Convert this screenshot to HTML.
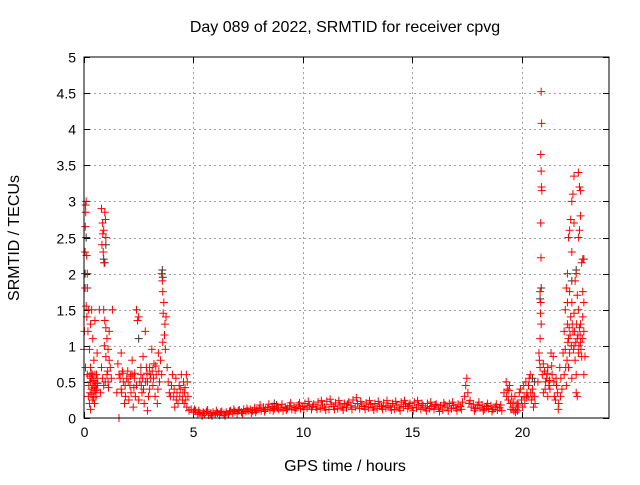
<!DOCTYPE html>
<html><head><meta charset="utf-8"><style>
body{margin:0;background:#fff}
svg text{font-family:"Liberation Sans",sans-serif;font-size:14px;fill:#000}
</style></head><body>
<svg id="chart" width="640" height="480" xmlns="http://www.w3.org/2000/svg">
<text x="345" y="32" text-anchor="middle" style="font-size:16px">Day 089 of 2022, SRMTID for receiver cpvg</text>
<text x="345" y="471" text-anchor="middle" style="font-size:16px">GPS time / hours</text>
<text transform="translate(19,238) rotate(-90)" text-anchor="middle" style="font-size:16px">SRMTID / TECUs</text>
<g id="grid"></g>
<g id="ticks"></g>
<path id="black" fill="none" stroke="#333" stroke-width="1"/>
<path id="red" fill="none" stroke="#ff0000" stroke-width="1"/>
<rect x="84" y="57" width="525" height="361" fill="none" stroke="#000" stroke-width="1"/>
</svg>
<script>
const xTicks=[0,5,10,15,20];
const yTicks=[0,0.5,1,1.5,2,2.5,3,3.5,4,4.5,5];
const yTickLabels=["0","0.5","1","1.5","2","2.5","3","3.5","4","4.5","5"];
const blackPts=[[0.1,2.5],[0.05,2.0],[0.15,1.8],[0.9,2.2],[0.95,2.15],[3.58,2.05],[3.6,1.95],[20.9,1.8],[20.85,1.65],[22.5,2.05],[22.85,2.2],[2.5,1.1],[20.6,0.5],[20.5,0.55],[22.3,1.9],[8.7,0.2],[1.0,2.4]];
const redPts=[
[0.05,2.3],[0.08,2.85],[0.1,3.0],[0.12,2.25],[0.15,2.0],[0.05,1.8],[0.1,1.55],[0.2,1.5],[0.18,1.2],[0.25,0.95],[0.3,0.7],[0.35,0.55],[0.4,0.45],[0.45,0.35],[0.5,0.6],[0.55,0.45],[0.2,0.3],[0.25,0.2],[0.3,0.12],[0.35,0.4],[0.4,0.6],[0.45,0.8],[0.5,0.5],[0.55,0.3],[0.6,0.55],[0.3,1.3],[0.35,1.5],[0.4,1.1],[0.15,0.6],[0.22,0.45],[0.28,0.35],[0.38,0.25],[0.48,0.2],[0.58,0.4],[0.02,1.2],[0.0,0.95],[0.6,0.9],[0.5,1.35],
[0.3,0.5],[0.33,0.62],[0.42,0.52],[0.47,0.42],[0.52,0.38],[0.36,0.33],[0.44,0.28],[0.27,0.58],[0.57,0.6],[0.62,0.48],[0.07,2.95],[0.06,2.65],[0.13,1.4],[0.07,0.7],
[0.8,2.9],[0.85,2.7],[0.9,2.6],[0.82,2.4],[0.95,2.85],[0.88,2.3],[0.92,2.15],[1.0,2.5],[0.9,1.5],[0.95,1.35],[1.0,1.25],[1.05,1.1],[1.1,0.95],[1.0,0.85],[1.15,0.8],[0.8,0.7],[0.85,0.55],[0.9,0.45],[0.75,0.35],[1.05,0.6],[1.1,0.5],[1.2,0.7],[1.25,0.55],[1.3,1.5],[0.7,1.5],[1.15,1.2],
[0.98,2.75],[0.86,2.55],[0.93,1.0],[1.08,0.65],[0.97,0.5],[1.12,0.42],
[1.6,0.0],[1.5,0.35],[1.6,0.6],[1.7,0.9],[1.8,0.5],[1.9,0.3],[2.0,0.65],[2.1,0.45],[2.2,0.8],[2.3,0.55],[2.4,1.5],[2.45,1.35],[2.5,1.4],[2.35,0.3],[2.5,0.25],[2.6,0.6],[2.7,0.85],[2.8,1.2],[2.85,0.7],[2.9,0.5],[3.0,0.4],[3.1,0.95],[3.2,0.75],[3.3,0.6],[3.4,0.9],[1.7,0.4],[1.85,0.2],[2.05,0.25],[2.15,0.35],[2.25,0.15],[2.55,0.5],[2.65,0.35],[2.75,0.2],[2.95,0.3],[3.05,0.55],[3.15,0.45],[3.25,0.3],[3.35,0.2],[1.95,0.55],[2.2,0.6],[2.6,0.7],[3.0,0.7],[1.55,0.75],[1.75,0.65],[2.4,0.45],[2.9,0.1],[3.45,0.5],
[1.65,0.55],[1.72,0.35],[1.78,0.62],[1.88,0.45],[2.02,0.5],[2.12,0.58],[2.28,0.42],[2.32,0.62],[2.62,0.45],[2.68,0.55],[2.72,0.4],[2.82,0.5],[2.88,0.62],[3.02,0.6],[3.12,0.65],[3.18,0.55],[3.28,0.72],[3.38,0.4],[3.42,0.65],
[3.55,2.0],[3.58,1.9],[3.6,1.75],[3.65,1.6],[3.62,1.45],[3.7,1.3],[3.68,1.15],[3.72,0.95],[3.75,1.4],[3.6,1.05],[3.5,0.8],[3.55,0.6],[3.8,0.7],[3.85,0.5],[3.9,0.35],
[4.0,0.45],[4.1,0.3],[4.2,0.55],[4.3,0.2],[4.4,0.4],[4.5,0.25],[4.6,0.35],[4.7,0.15],[4.8,0.1],[4.05,0.6],[4.25,0.35],[4.45,0.6],[4.55,0.5],[4.65,0.25],[4.15,0.15],[4.35,0.45],[4.75,0.3],[4.9,0.12],
[3.95,0.3],[4.12,0.4],[4.22,0.25],[4.38,0.3],[4.52,0.35],[4.62,0.42],[4.68,0.6],[4.72,0.5],[4.58,0.2],
[5.0,0.08],[5.1,0.1],[5.2,0.05],[5.3,0.07],[5.4,0.03],[5.5,0.06],[5.6,0.09],[5.7,0.04],[5.8,0.06],[5.9,0.08],[6.0,0.05],[6.1,0.07],[6.2,0.04],[6.3,0.09],[6.4,0.06],[6.5,0.08],[6.6,0.05],[6.7,0.1],[6.8,0.07],[6.9,0.09],[7.0,0.06],[7.1,0.11],[7.2,0.08],[7.3,0.12],[7.4,0.09],[7.5,0.1],
[5.05,0.12],[5.25,0.1],[5.45,0.08],[5.65,0.11],[5.85,0.03],[6.05,0.1],[6.25,0.08],[6.45,0.03],[6.65,0.09],[6.85,0.12],[7.05,0.1],[7.25,0.06],[7.45,0.13],
[7.6,0.12],[7.7,0.1],[7.8,0.14],[7.9,0.11],[8.0,0.13],[8.1,0.1],[8.2,0.15],[8.3,0.12],[8.4,0.14],[8.5,0.11],[8.6,0.16],[8.7,0.13],[8.8,0.18],[8.9,0.12],[9.0,0.14],[9.1,0.1],[9.2,0.15],[9.3,0.13],[9.4,0.17],[9.5,0.12],[9.6,0.15],[9.7,0.14],[9.8,0.18],[9.9,0.13],[10.0,0.16],[10.1,0.2],[10.2,0.14],[10.3,0.17],[10.4,0.12],[10.5,0.19],[10.6,0.15],[10.7,0.22],[10.8,0.13],[10.9,0.18],[11.0,0.15],[11.1,0.23],[11.2,0.12],[11.3,0.19],[11.4,0.16],[11.5,0.21],[11.6,0.13],[11.7,0.18],[11.8,0.15],[11.9,0.2],[12.0,0.14],[12.1,0.22],[12.2,0.17],[12.3,0.25],[12.4,0.15],[12.5,0.2],[12.6,0.13],[12.7,0.18],[12.8,0.16],[12.9,0.21],[13.0,0.14],[13.1,0.19],[13.2,0.15],[13.3,0.2],[13.4,0.13],[13.5,0.18],[13.6,0.16],[13.7,0.21],[13.8,0.14],[13.9,0.17],[14.0,0.15],[14.1,0.2],[14.2,0.12],[14.3,0.18],[14.4,0.14],[14.5,0.22],[14.6,0.16],[14.7,0.19],[14.8,0.13],[14.9,0.2],[15.0,0.15],[15.1,0.22],[15.2,0.14],[15.3,0.18],[15.4,0.12],[15.5,0.17],[15.6,0.14],[15.7,0.2],[15.8,0.13],[15.9,0.16],[16.0,0.12],[16.1,0.19],[16.2,0.14],[16.3,0.17],[16.4,0.11],[16.5,0.18],[16.6,0.15],[16.7,0.2],[16.8,0.13],[16.9,0.17],[17.0,0.14],[17.1,0.19],[17.2,0.16],[17.3,0.22],[17.4,0.3],[17.5,0.55],[17.45,0.45],[17.55,0.35],[17.6,0.2],[17.7,0.15],[17.8,0.19],[17.9,0.13],[18.0,0.17],[18.1,0.14],[18.2,0.18],[18.3,0.12],[18.4,0.16],[18.5,0.13],[18.6,0.17],[18.7,0.12],[18.8,0.15],[18.9,0.11],[19.0,0.14],[19.1,0.1],
[7.65,0.07],[7.85,0.08],[8.05,0.18],[8.25,0.09],[8.45,0.19],[8.65,0.1],[8.85,0.14],[9.05,0.19],[9.25,0.11],[9.45,0.21],[9.65,0.11],[9.85,0.21],[10.05,0.12],[10.25,0.23],[10.45,0.16],[10.65,0.12],[10.85,0.24],[11.05,0.11],[11.25,0.26],[11.45,0.12],[11.65,0.24],[11.85,0.11],[12.05,0.19],[12.25,0.12],[12.45,0.28],[12.65,0.23],[12.85,0.12],[13.05,0.24],[13.25,0.11],[13.45,0.23],[13.65,0.12],[13.85,0.24],[14.05,0.11],[14.25,0.23],[14.45,0.1],[14.65,0.24],[14.85,0.17],[15.05,0.1],[15.25,0.24],[15.45,0.2],[15.65,0.1],[15.85,0.22],[16.05,0.18],[16.25,0.09],[16.45,0.21],[16.65,0.1],[16.85,0.22],[17.05,0.1],[17.25,0.12],[17.65,0.24],[17.85,0.1],[18.05,0.22],[18.25,0.1],[18.45,0.2],[18.65,0.09],[18.85,0.19],[19.05,0.18],
[19.2,0.35],[19.3,0.5],[19.35,0.4],[19.4,0.25],[19.5,0.2],[19.6,0.15],[19.7,0.3],[19.8,0.2],[19.9,0.35],[20.0,0.25],[20.1,0.45],[20.2,0.5],[20.3,0.3],[20.4,0.6],[20.5,0.4],[20.6,0.3],[19.45,0.45],[19.55,0.3],[19.65,0.1],[19.75,0.12],[19.85,0.18],[19.95,0.4],[20.05,0.15],[20.15,0.2],[20.25,0.35],[20.35,0.55],[20.45,0.25],[20.55,0.15],
[19.32,0.3],[19.42,0.38],[19.52,0.12],[19.62,0.22],[19.72,0.08],[19.82,0.1],[20.12,0.3],[20.22,0.28],[20.32,0.45],[20.42,0.35],[20.52,0.3],[20.62,0.2],
[20.9,4.52],[20.92,4.08],[20.88,3.65],[20.9,3.42],[20.91,3.2],[20.93,3.15],[20.88,2.7],[20.89,2.22],[20.85,1.75],[20.88,1.6],[20.87,1.45],[20.85,1.1],[20.8,0.9],[20.82,0.8],[20.85,0.7],[20.9,1.3],[20.75,0.5],[20.95,0.6],[21.0,0.35],
[21.0,0.75],[21.1,0.5],[21.2,0.7],[21.3,0.4],[21.35,0.9],[21.4,0.6],[21.5,0.3],[21.6,0.45],[21.7,0.2],[21.8,0.55],[21.2,0.3],[21.45,0.85],[21.55,0.25],[21.05,0.65],[21.15,0.55],[21.25,0.45],[21.65,0.35],[21.75,0.7],[21.85,0.4],
[21.08,0.4],[21.18,0.62],[21.28,0.52],[21.38,0.72],[21.48,0.5],[21.58,0.55],[21.68,0.12],[21.78,0.3],
[21.9,0.9],[21.95,1.2],[22.0,1.5],[22.05,1.8],[22.1,2.0],[22.15,2.5],[22.2,2.6],[22.25,2.75],[22.3,3.0],[22.35,3.1],[22.4,3.35],[22.6,3.4],[22.65,3.2],[22.7,3.15],[22.7,2.8],[22.65,2.6],[22.6,2.5],[22.4,2.7],[22.3,2.3],[22.45,1.9],[22.5,2.0],[22.55,1.7],[22.6,1.5],[22.7,1.3],[22.8,1.75],[22.85,1.6],[22.75,2.15],[22.8,2.2],[22.0,0.95],[22.1,1.3],[22.15,1.1],[22.2,0.9],[22.25,1.4],[22.3,1.6],[22.35,1.2],[22.4,1.0],[22.45,0.8],[22.5,0.6],[22.55,1.1],[22.6,0.9],[22.65,1.25],[22.7,1.05],[22.75,0.85],[22.8,1.4],[22.85,1.2],[22.9,0.85],[22.5,0.35],[22.55,0.3],[22.3,0.55],[22.15,0.7],[21.95,0.6],[22.05,0.45],[22.85,0.6],[22.4,1.45],[22.2,1.75],[22.1,1.6],
[22.12,1.05],[22.18,1.25],[22.22,1.15],[22.28,1.0],[22.32,1.3],[22.38,0.95],[22.42,1.2],[22.48,1.05],[22.52,1.3],[22.58,1.15],[22.62,1.0],[22.68,1.15],[22.72,0.95],[22.78,1.1],[22.02,0.7],[22.08,0.8]
];
const X0=84,X1=609,Y0=418,Y1=57,XMAX=24,YMAX=5;
function sx(t){return X0+(X1-X0)*t/XMAX;}
function sy(v){return Y0-(Y0-Y1)*v/YMAX;}
const NS="http://www.w3.org/2000/svg";
const grid=document.getElementById('grid'),ticks=document.getElementById('ticks');
function line(p,x1,y1,x2,y2,st,dash,name){const l=document.createElementNS(NS,'line');l.setAttribute('x1',x1);l.setAttribute('y1',y1);l.setAttribute('x2',x2);l.setAttribute('y2',y2);l.setAttribute('stroke',st);if(dash)l.setAttribute('stroke-dasharray',dash);


p.appendChild(l);}
function txt(s,x,y,anchor,name){const t=document.createElementNS(NS,'text');t.textContent=s;t.setAttribute('x',x);t.setAttribute('y',y);t.setAttribute('text-anchor',anchor);


ticks.appendChild(t);}
yTicks.forEach((v,i)=>{const y=Math.round(sy(v))+0.5;
if(i>0&&i<yTicks.length-1)line(grid,X0,y,X1,y,'#a0a0a0','2,3','y-grid-line');
line(ticks,X0,y,X0+6,y,'#000',null,'y-tick');line(ticks,X1-6,y,X1,y,'#000',null,'y-tick-mirror');
txt(yTickLabels[i],76,y+5,'end','y-tick-label');});
xTicks.forEach(t=>{const x=Math.round(sx(t))+0.5;
if(t>0)line(grid,x,Y1,x,Y0,'#a0a0a0','2,3','x-grid-line');
line(ticks,x,Y0-6,x,Y0,'#000',null,'x-tick');line(ticks,x,Y1,x,Y1+6,'#000',null,'x-tick-mirror');
txt(String(t),x,437,'middle','x-tick-label');});
function plus(pts){let d='';pts.forEach(p=>{const x=sx(p[0]),y=sy(p[1]);d+=`M${x-4},${y}h8M${x},${y-4}v8`;});return d;}
document.getElementById('black').setAttribute('d',plus(blackPts));
document.getElementById('red').setAttribute('d',plus(redPts));
</script>
</body></html>
